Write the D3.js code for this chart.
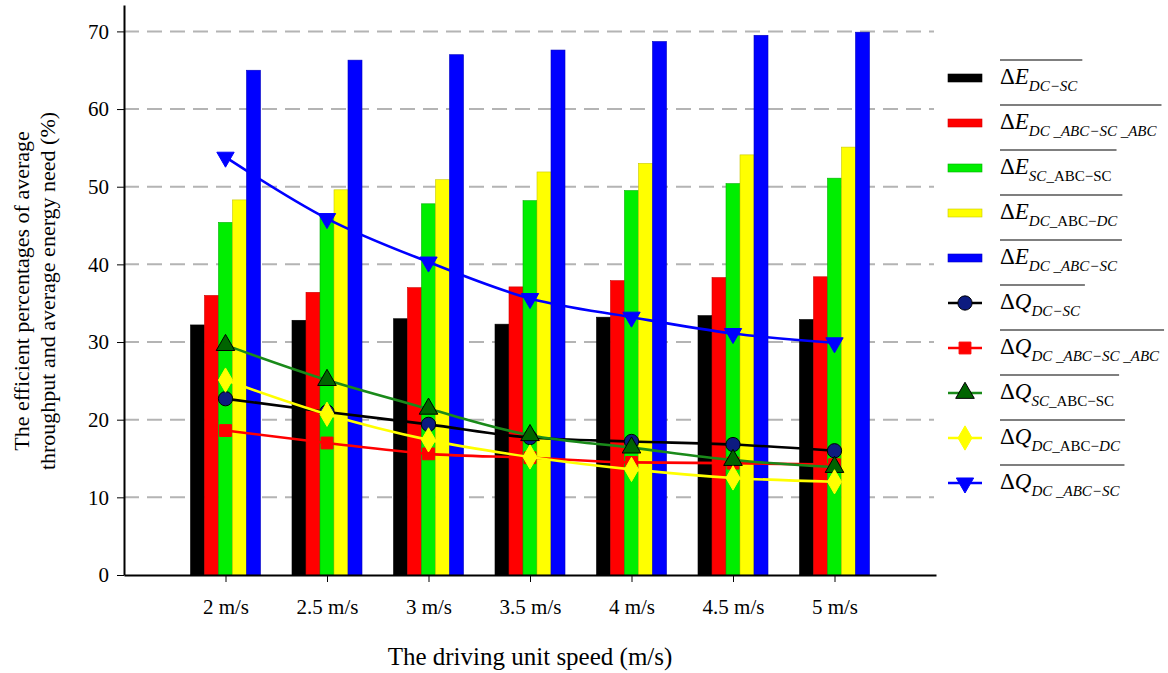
<!DOCTYPE html>
<html>
<head>
<meta charset="utf-8">
<script src="https://cdn.jsdelivr.net/npm/d3@7"></script>
<style>
  body { margin: 0; background: #fff; }
  svg { display: block; }
  text { font-family: "Liberation Serif", "Times New Roman", serif; fill: #000; }
</style>
</head>
<body>
<svg id="chart" width="1168" height="673"></svg>
<script>
// --- Data ------------------------------------------------
const speeds = ["2 m/s", "2.5 m/s", "3 m/s", "3.5 m/s", "4 m/s", "4.5 m/s", "5 m/s"];
const yTicks = [0, 10, 20, 30, 40, 50, 60, 70];

// bars (energy need)
const eDcSc       = [32.2, 32.8, 33.0, 32.3, 33.2, 33.4, 32.9];
const eDcAbcScAbc = [36.0, 36.4, 37.0, 37.1, 37.9, 38.3, 38.4];
const eScAbcSc    = [45.4, 46.3, 47.8, 48.2, 49.5, 50.4, 51.1];
const eDcAbcDc    = [48.3, 49.6, 50.9, 51.9, 53.0, 54.1, 55.1];
const eDcAbcSc    = [65.0, 66.3, 67.0, 67.6, 68.7, 69.5, 69.9];

// lines (throughput)
const qDcSc       = [22.7, 21.0, 19.4, 17.7, 17.2, 16.8, 16.0];
const qDcAbcScAbc = [18.6, 17.0, 15.6, 15.1, 14.5, 14.4, 14.2];
const qScAbcSc    = [29.6, 25.1, 21.4, 18.0, 16.4, 14.8, 13.9];
const qDcAbcDc    = [25.1, 20.7, 17.4, 15.2, 13.6, 12.5, 12.0];
const qDcAbcSc    = [53.8, 45.9, 40.3, 35.6, 33.2, 31.1, 29.9];

// legend label pieces: [text, italic?]
const eSubs = [
  [["DC\u2212SC", 1]],
  [["DC _ABC\u2212SC _ABC", 1]],
  [["SC", 1], ["_ABC\u2212SC", 0]],
  [["DC", 1], ["_ABC\u2212", 0], ["DC", 1]],
  [["DC _ABC\u2212SC", 1]]
];
const qSubs = eSubs;

const barColors = ["#000000", "#ff0000", "#00ee00", "#ffff00", "#0000ff"];
const barEdges  = ["#000000", "#d00000", "#00b000", "#c8c800", "#0000c0"];
const lineColors = ["#000000", "#ff0000", "#1a8a1a", "#ffff00", "#0000ff"];
const markFill   = ["#0d1b80", "#ff0000", "#006400", "#ffff00", "#0000ff"];
const markStroke = ["#000000", "#ff0000", "#000000", "#ffff00", "#0000ff"];
const markShapes = [d3.symbolCircle, d3.symbolSquare, d3.symbolTriangle, d3.symbolDiamond, d3.symbolTriangle];
const markSizes  = [160, 140, 150, 170, 130];
const markRot    = [0, 0, 0, 0, 180];

const barSeries  = [eDcSc, eDcAbcScAbc, eScAbcSc, eDcAbcDc, eDcAbcSc];
const lineSeries = [qDcSc, qDcAbcScAbc, qScAbcSc, qDcAbcDc, qDcAbcSc];

// --- Scales ----------------------------------------------
const svg = d3.select("#chart");
const plot = {left: 124, right: 936, bottom: 575, top: 5};

const x = d3.scalePoint().domain(speeds).range([plot.left, plot.right]).padding(1);
const xInner = d3.scaleBand().domain(d3.range(5)).range([-35, 35]);
const y = d3.scaleLinear().domain([0, 73.4]).range([plot.bottom, plot.top]);

// grid lines behind everything
svg.append("g")
  .selectAll("line")
  .data(yTicks.filter(t => t > 0))
  .join("line")
  .attr("x1", plot.left).attr("x2", plot.right - 2)
  .attr("y1", d => y(d)).attr("y2", d => y(d))
  .attr("stroke", "#b4b4b4")
  .attr("stroke-width", 2)
  .attr("stroke-dasharray", "15,8");

// bars
const groups = svg.append("g")
  .selectAll("g")
  .data(speeds)
  .join("g")
  .attr("transform", d => `translate(${x(d)},0)`);

groups.selectAll("rect")
  .data((d, i) => barSeries.map((s, k) => ({ k, v: s[i] })))
  .join("rect")
  .attr("x", d => xInner(d.k))
  .attr("width", xInner.bandwidth())
  .attr("y", d => y(d.v))
  .attr("height", d => y(0) - y(d.v))
  .attr("fill", d => barColors[d.k])
  .attr("stroke", d => barEdges[d.k])
  .attr("stroke-width", 0.6);

// lines with markers
const line = d3.line()
  .x((d, i) => x(speeds[i]))
  .y(d => y(d))
  .curve(d3.curveMonotoneX);

lineSeries.forEach((s, k) => {
  const g = svg.append("g");
  g.append("path")
    .datum(s)
    .attr("d", line)
    .attr("fill", "none")
    .attr("stroke", lineColors[k])
    .attr("stroke-width", 2.6);
  g.selectAll("path.m")
    .data(s)
    .join("path")
    .attr("class", "m")
    .attr("d", d3.symbol(markShapes[k], markSizes[k]))
    .attr("transform", (d, i) => `translate(${x(speeds[i])},${y(d)}) rotate(${markRot[k]})`)
    .attr("fill", markFill[k])
    .attr("stroke", markStroke[k])
    .attr("stroke-width", 1);
});

// --- Axes ------------------------------------------------
const yAxis = svg.append("g")
  .attr("transform", `translate(${plot.left},0)`)
  .call(d3.axisLeft(y).tickValues(yTicks).tickSize(7).tickSizeOuter(0).tickPadding(8));
yAxis.select(".domain").attr("stroke-width", 2);
yAxis.selectAll(".tick line").attr("stroke-width", 1);
yAxis.selectAll(".tick text").style("font-size", "21px").style("font-family", "Liberation Serif");

const xAxis = svg.append("g")
  .attr("transform", `translate(0,${plot.bottom})`)
  .call(d3.axisBottom(x).tickSize(7).tickSizeOuter(0).tickPadding(17));
xAxis.select(".domain").attr("stroke-width", 2);
xAxis.selectAll(".tick text").style("font-size", "21px").style("font-family", "Liberation Serif");

// axis titles
svg.append("text")
  .attr("x", 530).attr("y", 665)
  .attr("text-anchor", "middle")
  .style("font-size", "25px")
  .text("The driving unit speed (m/s)");

const yTitle = svg.append("text")
  .attr("transform", "translate(0,291) rotate(-90)")
  .attr("text-anchor", "middle")
  .style("font-size", "22px");
yTitle.append("tspan").attr("x", 0).attr("y", 29).text("The efficient percentages of average");
yTitle.append("tspan").attr("x", 0).attr("y", 55).text("throughput and average energy need (%)");

// --- Legend ----------------------------------------------
const legendY0 = 78, legendStep = 45;
const lg = svg.append("g");

function labelRow(ry, sym, subs) {
  const t = lg.append("text")
    .attr("x", 1000).attr("y", ry + 6)
    .style("font-size", "23px");
  t.append("tspan").text("\u0394");
  t.append("tspan").style("font-style", "italic").text(sym);
  subs.forEach((p, j) => {
    const ts = t.append("tspan")
      .style("font-size", "15px")
      .style("font-style", p[1] ? "italic" : "normal")
      .text(p[0]);
    if (j === 0) ts.attr("dy", 7);
  });
  const w = t.node().getComputedTextLength();
  lg.append("line")
    .attr("x1", 1000).attr("x2", 1000 + w + 5)
    .attr("y1", ry - 18).attr("y2", ry - 18)
    .attr("stroke", "#555").attr("stroke-width", 1.6);
}

eSubs.forEach((subs, k) => {
  const ry = legendY0 + k * legendStep;
  lg.append("rect")
    .attr("x", 948).attr("y", ry - 4)
    .attr("width", 34).attr("height", 8)
    .attr("fill", barColors[k])
    .attr("stroke", barEdges[k]).attr("stroke-width", 0.6);
  labelRow(ry, "E", subs);
});

qSubs.forEach((subs, k) => {
  const ry = legendY0 + (k + 5) * legendStep;
  lg.append("line")
    .attr("x1", 948).attr("x2", 982)
    .attr("y1", ry).attr("y2", ry)
    .attr("stroke", lineColors[k]).attr("stroke-width", 2.6);
  lg.append("path")
    .attr("d", d3.symbol(markShapes[k], markSizes[k]))
    .attr("transform", `translate(965,${ry}) rotate(${markRot[k]})`)
    .attr("fill", markFill[k])
    .attr("stroke", markStroke[k])
    .attr("stroke-width", 1);
  labelRow(ry, "Q", subs);
});
</script>
</body>
</html>
